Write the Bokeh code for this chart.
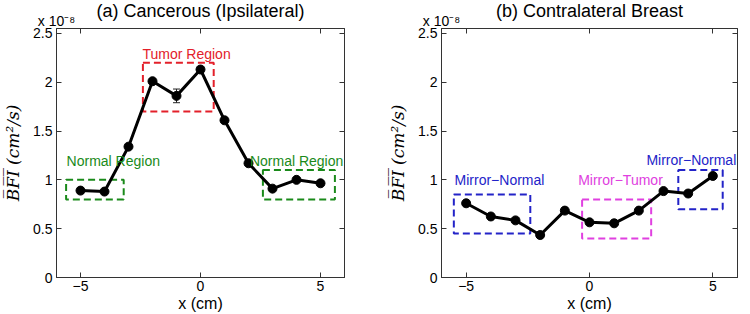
from bokeh.plotting import figure
from bokeh.models import (Label, LinearAxis, Whisker, ColumnDataSource, FixedTicker,
                          TeeHead, Range1d, Title)
from bokeh.layouts import row
from bokeh.embed import file_html
from bokeh.resources import INLINE

# ---------------- data ----------------
x_cm = [-5, -4, -3, -2, -1, 0, 1, 2, 3, 4, 5]
bfi_ipsi = [0.89, 0.88, 1.34, 2.01, 1.86, 2.13, 1.61, 1.17, 0.91, 1.00, 0.965]
err_ipsi = [0.03, 0.02, 0.02, 0.02, 0.07, 0.02, 0.02, 0.02, 0.02, 0.02, 0.02]
bfi_contra = [0.76, 0.625, 0.585, 0.435, 0.685, 0.565, 0.555, 0.685, 0.885, 0.86, 1.04]
err_contra = [0.02, 0.02, 0.02, 0.02, 0.03, 0.02, 0.02, 0.02, 0.02, 0.02, 0.02]

x_ticks = [-5, 0, 5]
x_tick_labels = ["\u22125", "0", "5"]
y_ticks = [0, 0.5, 1, 1.5, 2, 2.5]
y_tick_labels = ["0", "0.5", "1", "1.5", "2", "2.5"]

titles = ["(a) Cancerous (Ipsilateral)", "(b) Contralateral Breast"]
x_label = "x (cm)"
y_label = "B\u0305F\u0305I\u0305 (cm\u00b2/s)"
multiplier = "x 10\u207b\u2078"

# region boxes (data units)
regions_a_names = ["Tumor Region", "Normal Region", "Normal Region"]
regions_a_left = [-2.4, -5.6, 2.6]
regions_a_right = [0.55, -3.2, 5.6]
regions_a_bottom = [1.7, 0.8, 0.8]
regions_a_top = [2.2, 1.0, 1.1]

regions_b_names = ["Mirror\u2212Normal", "Mirror\u2212Tumor", "Mirror\u2212Normal"]
regions_b_left = [-5.5, -0.3, 3.6]
regions_b_right = [-2.4, 2.5, 5.4]
regions_b_bottom = [0.45, 0.4, 0.7]
regions_b_top = [0.85, 0.8, 1.1]

# ---------------- styling ----------------
SANS = "Liberation Sans"
AX_COLOR = "#333333"
XMIN, XMAX, YMIN, YMAX = -6, 6, 0, 2.55

colors_a = ["#e3202a", "#1a8a1a", "#1a8a1a"]
colors_b = ["#2323c8", "#e040e0", "#2323c8"]
label_pos_a = [(-0.58, 2.29, "center"), (-5.58, 1.19, "left"), (5.95, 1.19, "right")]
label_pos_b = [(-5.47, 1.0, "left"), (-0.46, 1.0, "left"), (5.95, 1.2, "right")]


def style_axis(ax, labels_visible=True):
    ax.axis_line_color = AX_COLOR
    ax.major_tick_line_color = AX_COLOR
    ax.minor_tick_line_color = None
    ax.major_tick_in = 5
    ax.major_tick_out = 0
    ax.major_label_text_font = SANS
    if labels_visible:
        ax.major_label_text_font_size = "14px"
        ax.major_label_text_color = "black"
    else:
        ax.major_label_text_font_size = "1px"
        ax.major_label_text_color = None
        ax.major_label_text_alpha = 0
        ax.major_label_standoff = 0


def make_panel(title, yvals, errs, names, lefts, rights, bottoms, tops, colors, label_pos,
               border_left, border_right):
    p = figure(width=375, height=314, output_backend="svg", toolbar_location=None,
               x_range=Range1d(XMIN, XMAX), y_range=Range1d(YMIN, YMAX),
               min_border_left=border_left, min_border_right=border_right,
               min_border_top=28, min_border_bottom=37)
    p.grid.visible = False
    p.outline_line_color = AX_COLOR
    p.background_fill_color = "white"
    p.border_fill_color = "white"

    xa = p.xaxis[0]
    ya = p.yaxis[0]
    xa.ticker = FixedTicker(ticks=x_ticks)
    ya.ticker = FixedTicker(ticks=y_ticks)
    xa.major_label_overrides = {t: l for t, l in zip(x_ticks, x_tick_labels)}
    ya.major_label_overrides = {t: l for t, l in zip(y_ticks, y_tick_labels)}
    style_axis(xa)
    style_axis(ya)
    xa.major_label_standoff = 3
    ya.major_label_standoff = 4
    xa.axis_label = x_label
    xa.axis_label_text_font = SANS
    xa.axis_label_text_font_style = "normal"
    xa.axis_label_text_font_size = "16px"
    xa.axis_label_text_color = "black"
    xa.axis_label_standoff = 1
    ya.axis_label = y_label
    ya.axis_label_text_font = "DejaVu Serif"
    ya.axis_label_text_font_style = "italic"
    ya.axis_label_text_font_size = "17px"
    ya.axis_label_text_color = "black"
    ya.axis_label_standoff = 7

    top_ax = LinearAxis(ticker=FixedTicker(ticks=x_ticks))
    style_axis(top_ax, labels_visible=False)
    top_ax.axis_label = multiplier
    top_ax.axis_label_align = "start"
    top_ax.axis_label_text_font = SANS
    top_ax.axis_label_text_font_style = "normal"
    top_ax.axis_label_text_font_size = "14px"
    top_ax.axis_label_text_color = "black"
    top_ax.axis_label_standoff = 0
    right_ax = LinearAxis(ticker=FixedTicker(ticks=y_ticks))
    style_axis(right_ax, labels_visible=False)
    p.add_layout(top_ax, "above")
    p.add_layout(right_ax, "right")

    p.title = Title(text=title, align="center", text_font=SANS, text_font_size="18px",
                    text_font_style="normal", text_color="black", standoff=-22)

    # region boxes
    box_src = ColumnDataSource(dict(left=lefts, right=rights, bottom=bottoms, top=tops,
                                    color=colors))
    p.quad(left="left", right="right", bottom="bottom", top="top", source=box_src,
           fill_alpha=0, line_color="color", line_width=2, line_dash="7 4")

    # data
    src = ColumnDataSource(dict(x=x_cm, y=yvals,
                                upper=[v + e for v, e in zip(yvals, errs)],
                                lower=[v - e for v, e in zip(yvals, errs)]))
    p.line("x", "y", source=src, line_color="black", line_width=3)
    p.add_layout(Whisker(base="x", upper="upper", lower="lower", source=src,
                         line_color="#222222", line_width=1,
                         upper_head=TeeHead(size=7, line_color="#222222", line_width=1),
                         lower_head=TeeHead(size=7, line_color="#222222", line_width=1)))
    p.scatter("x", "y", source=src, size=9, fill_color="black", line_color="black")

    # region labels
    for name, c, (lx, ly, al) in zip(names, colors, label_pos):
        p.add_layout(Label(x=lx, y=ly, text=name, text_color=c, text_font=SANS,
                           text_font_size="14px", text_align=al, text_baseline="middle"))
    return p


pa = make_panel(titles[0], bfi_ipsi, err_ipsi, regions_a_names, regions_a_left,
                regions_a_right, regions_a_bottom, regions_a_top, colors_a, label_pos_a, 49, 31)
pb = make_panel(titles[1], bfi_contra, err_contra, regions_b_names, regions_b_left,
                regions_b_right, regions_b_bottom, regions_b_top, colors_b, label_pos_b, 66, 13)

layout = row(pa, pb, spacing=0)
open("out.html", "w").write(file_html(layout, INLINE))
